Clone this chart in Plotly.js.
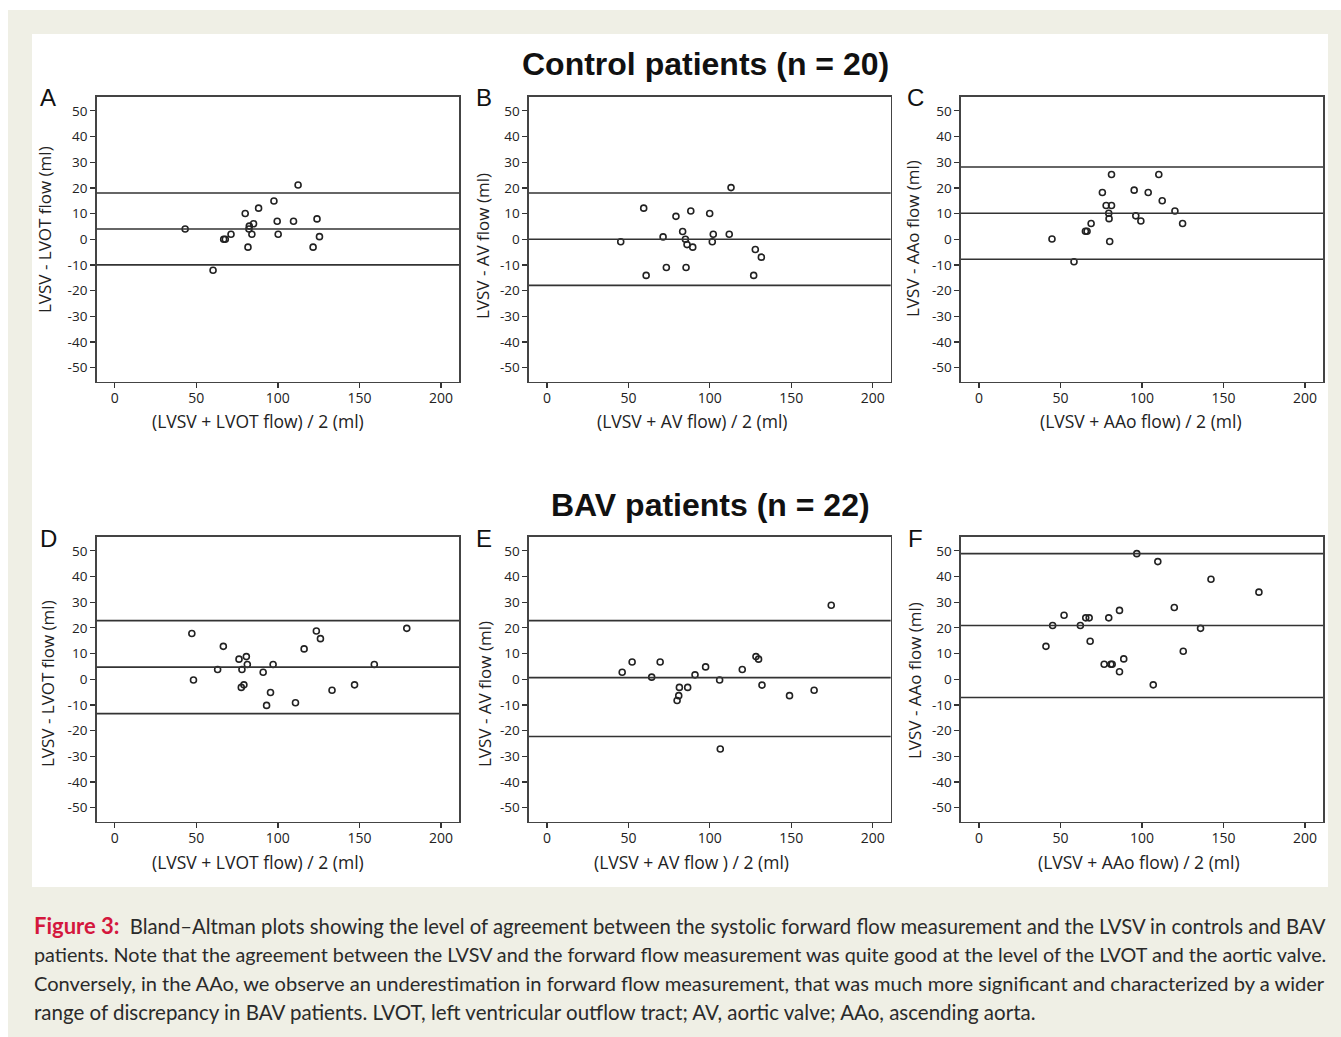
<!DOCTYPE html>
<html>
<head>
<meta charset="utf-8">
<script src="https://cdn.plot.ly/plotly-3.0.1.min.js"></script>
<style>
  html, body { margin: 0; padding: 0; background: #ffffff; }
  #chart { width: 1341px; height: 1037px; }
</style>
</head>
<body>
<div id="chart"></div>
<script>
// ---------- DATA ----------
const panelLetters = ["A", "B", "C", "D", "E", "F"];
const rowTitles = ["Control patients (n = 20)", "BAV patients (n = 22)"];
const xTitles = ["(LVSV + LVOT flow) / 2 (ml)", "(LVSV + AV flow) / 2 (ml)", "(LVSV + AAo flow) / 2 (ml)",
                 "(LVSV + LVOT flow) / 2 (ml)", "(LVSV + AV flow ) / 2 (ml)", "(LVSV + AAo flow) / 2 (ml)"];
const yTitles = ["LVSV - LVOT flow (ml)", "LVSV - AV flow (ml)", "LVSV - AAo flow (ml)",
                 "LVSV - LVOT flow (ml)", "LVSV - AV flow (ml)", "LVSV - AAo flow (ml)"];
const xTickVals = [0, 50, 100, 150, 200];
const xTickText = ["0", "50", "100", "150", "200"];
const yTickVals = [-50, -40, -30, -20, -10, 0, 10, 20, 30, 40, 50];
const yTickText = ["-50", "-40", "-30", "-20", "-10", "0", "10", "20", "30", "40", "50"];

// Panel A: control, LVOT
const meanA_x = [112.4, 97.6, 88.2, 80.0, 99.6, 109.6, 124.0, 85.1, 82.5, 82.3, 43.2, 84.1, 100.2, 71.3, 66.8, 67.8, 125.5, 81.7, 121.6, 60.3];
const diffA_y = [21.1, 14.9, 12.1, 10.0, 7.0, 7.0, 7.9, 6.0, 5.1, 4.0, 4.0, 1.9, 1.9, 1.9, 0.0, 0.0, 1.0, -3.1, -3.1, -12.1];
const limitsA = [18.0, 4.0, -10.0];

// Panel B: control, AV
const meanB_x = [113.0, 59.4, 88.3, 99.9, 79.2, 83.3, 71.3, 102.1, 111.9, 85.0, 45.3, 101.5, 86.0, 89.5, 127.9, 131.6, 73.3, 85.4, 60.9, 126.9];
const diffB_y = [20.1, 12.1, 11.0, 10.0, 8.9, 3.0, 0.9, 1.9, 1.9, 0.0, -1.0, -1.0, -2.1, -3.1, -4.0, -7.0, -11.0, -11.0, -14.1, -14.1];
const limitsB = [18.0, 0.0, -18.0];

// Panel C: control, AAo
const meanC_x = [81.3, 110.3, 75.7, 95.2, 103.8, 112.4, 78.0, 81.3, 120.2, 79.6, 79.8, 96.2, 99.3, 68.8, 124.9, 65.3, 66.3, 44.8, 80.2, 58.3];
const diffC_y = [25.2, 25.2, 18.2, 19.1, 18.2, 15.0, 13.1, 13.1, 11.0, 10.1, 8.0, 9.1, 7.1, 6.1, 6.1, 3.1, 3.1, 0.1, -0.9, -8.8];
const limitsC = [28.1, 10.1, -7.8];

// Panel D: BAV, LVOT
const meanD_x = [179.0, 47.3, 123.6, 126.1, 66.6, 116.1, 76.2, 80.7, 81.3, 97.1, 159.1, 63.1, 78.0, 91.0, 48.3, 79.2, 77.6, 95.5, 133.2, 147.0, 110.8, 93.1];
const diffD_y = [19.8, 17.8, 18.8, 15.8, 12.8, 11.8, 7.8, 8.8, 5.7, 5.7, 5.7, 3.8, 3.8, 2.7, -0.3, -2.2, -3.2, -5.2, -4.3, -2.2, -9.2, -10.2];
const limitsD = [22.8, 4.7, -13.4];

// Panel E: BAV, AV
const meanE_x = [174.5, 128.3, 129.9, 52.3, 69.5, 46.2, 97.4, 119.9, 90.9, 64.3, 106.0, 132.0, 81.3, 86.4, 80.9, 79.9, 148.9, 164.0, 106.4];
const diffE_y = [28.8, 8.8, 7.8, 6.7, 6.7, 2.7, 4.8, 3.8, 1.7, 0.8, -0.3, -2.3, -3.2, -3.2, -6.4, -8.3, -6.4, -4.3, -27.2];
const limitsE = [22.8, 0.6, -22.3];

// Panel F: BAV, AAo
const meanF_x = [96.8, 109.7, 142.3, 171.7, 119.8, 86.2, 52.2, 65.5, 67.6, 79.6, 45.2, 62.2, 135.9, 68.2, 41.1, 125.3, 88.8, 76.8, 80.9, 81.7, 86.2, 106.9];
const diffF_y = [48.9, 45.8, 38.9, 33.9, 27.9, 26.8, 24.9, 23.9, 23.9, 23.9, 20.9, 20.9, 19.8, 14.8, 12.8, 10.9, 7.9, 5.8, 5.8, 5.8, 2.9, -2.2];
const limitsF = [48.9, 20.9, -7.1];

const captionLines = [
  "<span style=\"color:#d4173d;font-size:22px\"><b>Figure 3:</b></span>  Bland\u2013Altman plots showing the level of agreement between the systolic forward flow measurement and the LVSV in controls and BAV",
  "patients. Note that the agreement between the LVSV and the forward flow measurement was quite good at the level of the LVOT and the aortic valve.",
  "Conversely, in the AAo, we observe an underestimation in forward flow measurement, that was much more significant and characterized by a wider",
  "range of discrepancy in BAV patients. LVOT, left ventricular outflow tract; AV, aortic valve; AAo, ascending aorta."
];

// ---------- LAYOUT / DRAW ----------
const W = 1341, H = 1037;
const panelsX = [meanA_x, meanB_x, meanC_x, meanD_x, meanE_x, meanF_x];
const panelsY = [diffA_y, diffB_y, diffC_y, diffD_y, diffE_y, diffF_y];
const panelsL = [limitsA, limitsB, limitsC, limitsD, limitsE, limitsF];

const colPx = [[96.7, 459], [529, 890.7], [961, 1323]];
const rowPx = [[96.7, 381.7], [536.7, 821.7]];
const xTitlePos = [[258, 421], [692, 421], [1141, 421], [258, 862], [691, 862], [1139, 862]];
const yTitlePos = [[45, 230], [482, 246], [913, 239], [47, 683], [484, 694], [914, 681]];

const traces = [];
const layout = {
  width: W, height: H,
  margin: {l: 0, r: 0, t: 0, b: 0},
  paper_bgcolor: "#ffffff",
  plot_bgcolor: "#ffffff",
  showlegend: false,
  font: {family: "Open Sans, Noto Sans, sans-serif", color: "#222222", size: 13},
  shapes: [],
  annotations: []
};

// background frames
layout.shapes.push({type: "rect", xref: "paper", yref: "paper", layer: "below",
  x0: 8 / W, x1: 1, y0: 0, y1: 1 - 10 / H, fillcolor: "#efefe5", line: {width: 0}});
layout.shapes.push({type: "rect", xref: "paper", yref: "paper", layer: "below",
  x0: 32 / W, x1: 1328 / W, y0: 1 - 887 / H, y1: 1 - 34 / H, fillcolor: "#ffffff", line: {width: 0}});

for (let i = 0; i < 6; i++) {
  const r = Math.floor(i / 3), c = i % 3;
  const n = i + 1;
  const xa = n === 1 ? "xaxis" : "xaxis" + n;
  const ya = n === 1 ? "yaxis" : "yaxis" + n;
  const xr = n === 1 ? "x" : "x" + n;
  const yr = n === 1 ? "y" : "y" + n;
  layout[xa] = {
    domain: [colPx[c][0] / W, colPx[c][1] / W],
    anchor: yr, range: [-11, 211], fixedrange: true,
    tickvals: xTickVals, ticktext: xTickText,
    ticks: "outside", ticklen: 5, tickwidth: 1.3, tickcolor: "#333333",
    ticklabelstandoff: -2,
    showline: true, linecolor: "#444444", linewidth: 1.6, mirror: true,
    showgrid: false, zeroline: false,
    tickfont: {size: 14, color: "#222222"}
  };
  layout[ya] = {
    domain: [1 - rowPx[r][1] / H, 1 - rowPx[r][0] / H],
    anchor: xr, range: [-55.5, 55.5], fixedrange: true,
    tickvals: yTickVals, ticktext: yTickText,
    ticks: "outside", ticklen: 5, tickwidth: 1.3, tickcolor: "#333333",
    showline: true, linecolor: "#444444", linewidth: 1.6, mirror: true,
    showgrid: false, zeroline: false,
    tickfont: {size: 13.5, color: "#222222"}
  };
  traces.push({
    type: "scatter", mode: "markers", xaxis: xr, yaxis: yr,
    x: panelsX[i], y: panelsY[i],
    marker: {symbol: "circle-open", size: 6, color: "#222222", line: {width: 1.6, color: "#222222"}},
    hoverinfo: "x+y"
  });
  panelsL[i].forEach(v => {
    layout.shapes.push({type: "line", xref: xr + " domain", yref: yr,
      x0: 0, x1: 1, y0: v, y1: v, line: {color: "#333333", width: 1.6}});
  });
  layout.annotations.push({
    text: panelLetters[i], xref: "paper", yref: "paper", showarrow: false,
    x: [48, 484, 916][c] / W, y: 1 - [97, 538][r] / H,
    xanchor: "center", yanchor: "middle",
    font: {family: "Liberation Sans, Arial, sans-serif", size: 24, color: "#111111"}
  });
  layout.annotations.push({
    text: xTitles[i], xref: "paper", yref: "paper", showarrow: false,
    x: xTitlePos[i][0] / W, y: 1 - xTitlePos[i][1] / H,
    xanchor: "center", yanchor: "middle",
    font: {size: 17.5, color: "#222222"}
  });
  layout.annotations.push({
    text: yTitles[i], xref: "paper", yref: "paper", showarrow: false, textangle: -90,
    x: yTitlePos[i][0] / W, y: 1 - yTitlePos[i][1] / H,
    xanchor: "center", yanchor: "middle",
    font: {size: 17, color: "#222222"}
  });
}

rowTitles.forEach((t, r) => {
  layout.annotations.push({
    text: "<b>" + t + "</b>", xref: "paper", yref: "paper", showarrow: false,
    x: [705, 710][r] / W, y: 1 - [64, 505][r] / H, xanchor: "center", yanchor: "middle",
    font: {family: "Liberation Sans, Arial, sans-serif", size: 32, color: "#111111"}
  });
});

const capY = [925, 954, 983, 1012];
const capSize = [20.3, 19.75, 20.1, 20.5];
captionLines.forEach((t, k) => {
  layout.annotations.push({
    text: t, xref: "paper", yref: "paper", showarrow: false,
    x: 32 / W, y: 1 - capY[k] / H, xanchor: "left", yanchor: "middle", align: "left",
    font: {family: "Lato, Noto Sans, sans-serif", size: capSize[k], color: "#2a2a2a"}
  });
});

Plotly.newPlot("chart", traces, layout, {displayModeBar: false, staticPlot: true});
</script>
</body>
</html>
